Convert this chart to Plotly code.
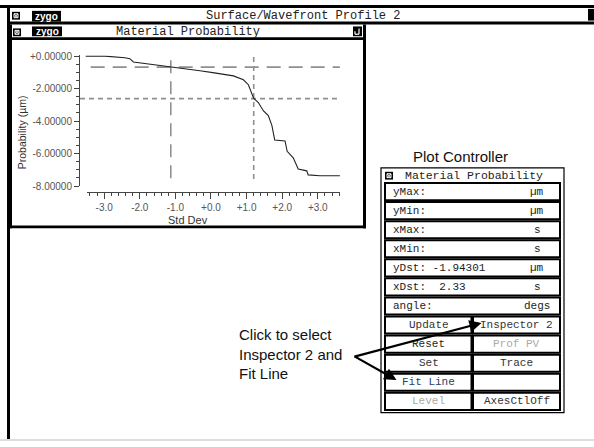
import plotly.graph_objects as go

W, H = 594, 447

# ---------------- data ----------------
curve_x = [-3.52, -2.98, -2.42, -2.28, -2.18, -1.81, -1.15, -0.82, -0.31, 0.05, 0.63, 0.91, 1.05, 1.20,
           1.33, 1.47, 1.61, 1.71, 1.79, 2.08, 2.14, 2.31, 2.45, 2.69, 2.73, 3.06, 3.62]
curve_y = [0.0, 0.0, -0.10, -0.16, -0.36, -0.46, -0.66, -0.76, -0.90, -1.02, -1.22, -1.46, -1.76, -2.60,
           -2.86, -3.36, -3.66, -4.26, -5.16, -5.22, -5.86, -6.26, -6.95, -7.06, -7.31, -7.36, -7.36]

cursor_long_y = -0.68    # horizontal long-dash cursor
cursor_long_x = -1.13    # vertical long-dash cursor
cursor_short_y = -2.62   # horizontal short-dash cursor
cursor_short_x = 1.20    # vertical short-dash cursor

y_tick_vals = [0, -2, -4, -6, -8]
y_tick_text = ['+0.00000', '-2.00000', '-4.00000', '-6.00000', '-8.00000']
y_minor_vals = [-0.5, -1.0, -1.5, -2.5, -3.0, -3.5, -4.5, -5.0, -5.5, -6.5, -7.0, -7.5]
x_tick_vals = [-3, -2, -1, 0, 1, 2, 3]
x_tick_text = ['-3.0', '-2.0', '-1.0', '+0.0', '+1.0', '+2.0', '+3.0']
x_minor_vals = [-3.4, -3.2, -2.8, -2.6, -2.4, -2.2, -1.8, -1.6, -1.4, -1.2, -0.8, -0.6, -0.4, -0.2,
                0.2, 0.4, 0.6, 0.8, 1.2, 1.4, 1.6, 1.8, 2.2, 2.4, 2.6, 2.8, 3.2, 3.4, 3.6]

field_labels = ['yMax:', 'yMin:', 'xMax:', 'xMin:', 'yDst: -1.94301', 'xDst:  2.33', 'angle:']
field_units = ['µm', 'µm', 's', 's', 'µm', 's', 'degs']
buttons_left = ['Update', 'Reset', 'Set', 'Fit Line', 'Level']
buttons_right = ['Inspector 2', 'Prof PV', 'Trace', '', 'AxesCtlOff']
buttons_left_col = ['#333333', '#222222', '#333333', '#2b3f63', '#aaaaaa']
buttons_right_col = ['#333333', '#aaaaaa', '#333333', '#333333', '#333333']

MONO = 'Liberation Mono, DejaVu Sans Mono, monospace'
SANS = 'Liberation Sans, Arial, sans-serif'


def px(x):
    return x / W


def py(y):
    return 1 - y / H


shapes = []
annotations = []


def rect(x0, y0, x1, y1, fill=None, line=None, lw=0, layer='below'):
    d = dict(type='rect', xref='paper', yref='paper', x0=px(x0), x1=px(x1), y0=py(y1), y1=py(y0),
             layer=layer, line=dict(width=lw, color=line if line else 'rgba(0,0,0,0)'))
    if fill:
        d['fillcolor'] = fill
    shapes.append(d)


def seg(x0, y0, x1, y1, color='black', lw=1, layer='below'):
    shapes.append(dict(type='line', xref='paper', yref='paper', x0=px(x0), x1=px(x1), y0=py(y0), y1=py(y1),
                       layer=layer, line=dict(width=lw, color=color)))


def text(x, y, s, size=11, family=MONO, color='#222222', xanchor='center', yanchor='middle', angle=0,
         align='center'):
    annotations.append(dict(x=px(x), y=py(y), xref='paper', yref='paper', text=s, showarrow=False,
                            xanchor=xanchor, yanchor=yanchor, textangle=angle, align=align,
                            font=dict(size=size, family=family, color=color)))


def closebox(x, y):
    rect(x, y, x + 8, y + 8, fill='black')
    rect(x + 2, y + 2, x + 6, y + 6, line='white', lw=1)
    seg(x + 2, y + 2, x + 6, y + 6, color='white', lw=1)
    seg(x + 2, y + 6, x + 6, y + 2, color='white', lw=1)


def zygo(x0, y0, x1, y1):
    rect(x0, y0, x1, y1, fill='black')
    text((x0 + x1) / 2, (y0 + y1) / 2, '<b>zygo</b>', size=10, family=SANS, color='white')


# ---------------- outer window ----------------
rect(0, 0, W, 3, fill='black')
rect(7, 0, 10, H, fill='black')
rect(7, 17, W, 20, fill='black')
rect(588, 4, W, 16, fill='black')
closebox(12, 7)
zygo(32, 6, 61, 17)
text(303, 11.5, 'Surface/Wavefront Profile 2', size=12)
rect(0, H - 2, W, H, fill='#dddddd')

# ---------------- inner window ----------------
rect(7, 20, 12, 229, fill='black')
rect(10, 33, 366, 36, fill='black')
rect(363, 20, 366, 229, fill='black')
rect(7, 226, 366, 229, fill='black')
closebox(13, 24)
zygo(32, 22, 62, 32)
text(188, 27.5, 'Material Probability', size=12)
rect(353, 22, 362, 32, fill='black')
seg(359, 24, 359, 30, color='white', lw=1.2)
seg(355, 30, 359, 30, color='white', lw=1.2)
seg(355, 27, 355, 30, color='white', lw=1.2)

# axis titles (centred on the window)
text(188, 220, 'Std Dev', size=11, family=SANS, color='#333333')
text(21.5, 131, 'Probability (µm)', size=10.5, family=SANS, color='#333333', angle=-90)

# ---------------- plot controller panel ----------------
text(460, 155, 'Plot Controller', size=15, family=SANS, color='#111111')
rect(381, 167, 564, 418, line='black', lw=1.2)
closebox(385, 171)
text(474, 175, 'Material Probability', size=11.5)
row_top, row_h = 181.0, 19.55
for i in range(12):
    t = row_top + i * row_h
    if i < 7:
        rect(385, t + 1.5, 560, t + row_h - 0.5, fill='white', line='black', lw=2)
        text(391, t + row_h / 2 + 0.5, field_labels[i], size=11, xanchor='left')
        text(537, t + row_h / 2 + 0.5, field_units[i], size=11)
    else:
        j = i - 7
        rect(385, t + 1.5, 471.5, t + row_h - 0.5, fill='white', line='black', lw=2)
        rect(473, t + 1.5, 560, t + row_h - 0.5, fill='white', line='black', lw=2)
        text(428.5, t + row_h / 2 + 0.5, buttons_left[j], size=11, color=buttons_left_col[j])
        if buttons_right[j]:
            text(516.5, t + row_h / 2 + 0.5, buttons_right[j], size=11, color=buttons_right_col[j])

# ---------------- callout ----------------
text(237, 358, 'Click to select<br>Inspector 2 and<br>Fit Line', size=15, family=SANS,
     color='#111111', xanchor='left', align='left')
tail = (353, 360)
for tip in [(481.5, 326), (396.5, 384.5)]:
    annotations.append(dict(x=px(tip[0]), y=py(tip[1]), xref='paper', yref='paper', text='',
                            showarrow=True, ax=tail[0] - tip[0], ay=tail[1] - tip[1],
                            arrowhead=2, arrowsize=1.1, arrowwidth=2.2, arrowcolor='black', standoff=0))

# ---------------- chart ----------------
fig = go.Figure()
dash_col = '#8f8f8f'
fig.add_trace(go.Scatter(x=[-3.38, 3.62], y=[cursor_long_y, cursor_long_y], mode='lines',
                         line=dict(color=dash_col, width=1.6, dash='14px,8px'), hoverinfo='skip'))
fig.add_trace(go.Scatter(x=[cursor_long_x, cursor_long_x], y=[-0.26, -7.66], mode='lines',
                         line=dict(color=dash_col, width=1.6, dash='13px,8px'), hoverinfo='skip'))
fig.add_trace(go.Scatter(x=[-3.68, 3.62], y=[cursor_short_y, cursor_short_y], mode='lines',
                         line=dict(color=dash_col, width=1.6, dash='5px,4px'), hoverinfo='skip'))
fig.add_trace(go.Scatter(x=[cursor_short_x, cursor_short_x], y=[-0.06, -7.76], mode='lines',
                         line=dict(color=dash_col, width=1.6, dash='5px,4px'), hoverinfo='skip'))
fig.add_trace(go.Scatter(x=curve_x, y=curve_y, mode='lines', line=dict(color='#222222', width=1.1),
                         hoverinfo='skip'))
# carrier trace for the visible x axis
fig.add_trace(go.Scatter(x=[], y=[], xaxis='x2', yaxis='y', mode='lines', hoverinfo='skip'))

tickfont = dict(size=10, family=SANS, color='#555555')
fig.update_layout(
    width=W, height=H, margin=dict(l=0, r=0, t=0, b=0),
    paper_bgcolor='white', plot_bgcolor='rgba(0,0,0,0)', showlegend=False,
    xaxis=dict(domain=[px(80), px(340)], range=[-3.680, 3.624], visible=False, fixedrange=True),
    xaxis2=dict(domain=[px(87), px(340)], range=[-3.483, 3.624], anchor='free', position=py(192),
                showline=True, linecolor='#444444', linewidth=1, showgrid=False, zeroline=False,
                ticks='outside', ticklen=6, tickcolor='#444444', tickwidth=1,
                tickmode='array', tickvals=x_tick_vals, ticktext=x_tick_text, tickfont=tickfont,
                minor=dict(tickmode='array', tickvals=x_minor_vals, ticks='outside', ticklen=3,
                           tickcolor='#444444', tickwidth=1),
                fixedrange=True),
    yaxis=dict(domain=[py(185.7), py(51.7)], range=[-8, 0.04], anchor='x',
               showline=True, linecolor='#444444', linewidth=1, showgrid=False, zeroline=False,
               ticks='outside', ticklen=5, tickcolor='#444444', tickwidth=1,
               tickmode='array', tickvals=y_tick_vals, ticktext=y_tick_text, tickfont=tickfont,
               minor=dict(tickmode='array', tickvals=y_minor_vals, ticks='outside', ticklen=3,
                          tickcolor='#444444', tickwidth=1),
               fixedrange=True),
    shapes=shapes, annotations=annotations,
)
fig.write_html('out.html', config={'displayModeBar': False},
               post_script="document.body.style.margin='0px';document.body.style.overflow='hidden';")
